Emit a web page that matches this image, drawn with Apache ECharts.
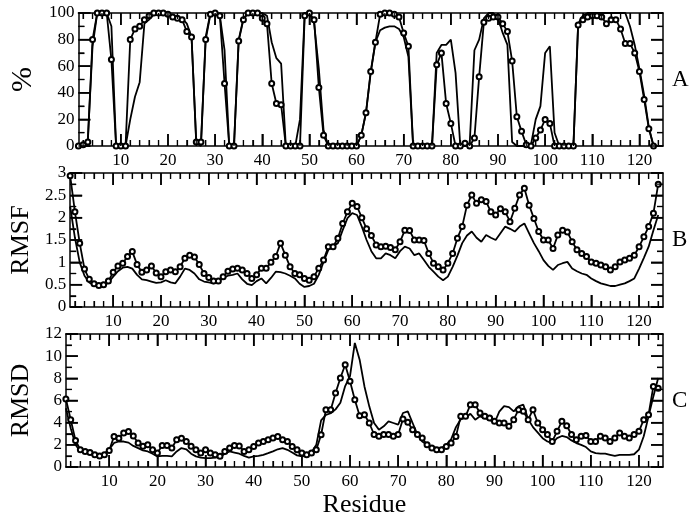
<!DOCTYPE html>
<html><head><meta charset="utf-8">
<script src="https://cdn.jsdelivr.net/npm/echarts@6/dist/echarts.min.js"></script>
<style>html,body{margin:0;padding:0;background:#fff}#c{width:694px;height:521px}</style>
</head><body><div id="c"></div><script>
// Residue numbering starts at 1; each array entry is one residue.
const occupancyCircles = [0,1,3,80,100,100,100,65,0,0,
 0,80,88,90,95,98,100,100,100,99,
 97,96,95,86,82,3,3,80,99,100,
 98,47,0,0,79,95,100,100,100,96,
 92,47,32,31,0,0,0,0,98,100,
 95,44,8,0,0,0,0,0,0,0,
 8,25,56,78,99,100,100,99,97,85,
 75,0,0,0,0,0,61,70,32,17,
 0,0,2,0,6,52,93,96,97,97,
 92,86,64,22,11,1,0,6,12,20,
 17,0,0,0,0,0,91,95,97,98,
 98,97,92,95,95,88,77,77,70,56,
 35,13,0];
const occupancyLine = [0,1,5,75,100,100,100,90,0,0,
 0,20,37,48,92,95,99,100,100,100,
 98,97,96,92,82,2,0,82,100,100,
 98,72,0,0,80,96,100,100,100,100,
 98,78,66,62,0,0,0,20,100,100,
 92,58,12,0,0,0,0,0,0,0,
 8,25,55,78,87,89,90,90,88,82,
 67,0,0,0,0,0,70,76,76,80,
 55,0,0,2,72,80,96,100,100,96,
 85,76,3,0,0,0,1,20,30,70,
 75,10,0,0,0,0,92,98,100,100,
 100,100,100,100,100,100,100,90,76,58,
 38,14,0];
const rmsfCircles = [2.94,2.13,1.43,0.85,0.62,0.52,0.48,0.5,0.58,0.78,
 0.92,0.98,1.13,1.24,0.95,0.78,0.83,0.92,0.76,0.68,
 0.79,0.83,0.79,0.9,1.09,1.16,1.12,0.95,0.75,0.66,
 0.58,0.58,0.68,0.8,0.85,0.87,0.83,0.75,0.64,0.72,
 0.87,0.87,1.0,1.13,1.43,1.16,0.9,0.75,0.72,0.64,
 0.6,0.68,0.87,1.05,1.35,1.35,1.54,1.87,2.13,2.32,
 2.25,2.0,1.75,1.6,1.39,1.35,1.36,1.33,1.28,1.46,
 1.72,1.71,1.5,1.5,1.49,1.2,0.98,0.9,0.83,0.98,
 1.2,1.54,1.8,2.28,2.51,2.32,2.4,2.36,2.13,2.06,
 2.2,2.13,1.91,2.21,2.51,2.66,2.28,1.98,1.69,1.5,
 1.5,1.31,1.61,1.72,1.68,1.46,1.28,1.2,1.13,1.01,
 0.98,0.94,0.9,0.83,0.9,1.01,1.05,1.09,1.16,1.35,
 1.57,1.8,2.1,2.75];
const rmsfLine = [2.25,1.55,1.0,0.7,0.55,0.48,0.45,0.47,0.55,0.68,
 0.8,0.88,0.9,0.86,0.72,0.62,0.6,0.57,0.54,0.55,
 0.6,0.55,0.53,0.68,0.86,0.83,0.75,0.62,0.57,0.55,
 0.53,0.58,0.65,0.7,0.72,0.75,0.62,0.52,0.49,0.58,
 0.64,0.53,0.65,0.79,0.78,0.75,0.7,0.64,0.52,0.45,
 0.47,0.52,0.72,1.01,1.28,1.36,1.43,1.72,1.99,2.1,
 2.06,1.8,1.5,1.25,1.09,1.09,1.2,1.16,1.09,1.25,
 1.35,1.31,1.16,1.2,1.05,0.9,0.79,0.68,0.6,0.68,
 0.9,1.15,1.43,1.6,1.69,1.55,1.46,1.61,1.55,1.5,
 1.65,1.8,1.75,1.69,1.8,1.87,1.65,1.43,1.25,1.05,
 0.92,0.83,0.94,0.98,1.01,0.86,0.8,0.75,0.72,0.64,
 0.58,0.53,0.5,0.47,0.47,0.5,0.53,0.58,0.64,0.86,
 1.1,1.35,1.72,2.06];
const rmsdCircles = [6.14,4.27,2.4,1.56,1.4,1.3,1.1,1.0,1.1,1.5,
 2.76,2.6,3.07,3.2,2.8,2.17,1.87,2.0,1.56,1.26,
 1.93,1.93,1.71,2.46,2.6,2.3,1.87,1.56,1.26,1.56,
 1.26,1.1,0.96,1.4,1.71,1.93,1.9,1.4,1.56,1.86,
 2.16,2.31,2.46,2.61,2.76,2.46,2.31,1.86,1.56,1.26,
 1.1,1.26,1.56,2.91,5.17,5.17,6.68,8.03,9.23,7.73,
 6.07,4.63,4.72,3.97,2.93,2.78,2.93,2.93,2.78,2.93,
 4.33,4.03,3.37,2.93,2.61,2.01,1.71,1.56,1.56,1.86,
 2.16,2.76,4.57,4.57,5.62,5.62,4.87,4.57,4.42,4.12,
 3.97,3.97,3.67,4.27,5.17,5.02,4.27,5.17,3.97,3.37,
 2.93,2.31,3.22,4.12,3.72,2.93,2.46,2.78,2.84,2.31,
 2.31,2.78,2.61,2.31,2.61,3.07,2.78,2.61,2.93,3.22,
 4.27,4.72,7.27,7.1];
const rmsdLine = [5.3,3.5,2.0,1.4,1.3,1.2,1.0,1.0,1.2,1.6,
 2.17,2.3,2.3,2.2,1.9,1.7,1.5,1.4,1.2,0.96,
 1.0,1.0,0.96,1.4,1.71,1.6,1.2,0.96,0.85,0.8,
 0.8,0.85,0.9,1.2,1.4,1.3,1.2,1.0,0.85,0.96,
 1.0,1.1,1.25,1.41,1.6,1.71,1.55,1.3,1.05,0.96,
 1.0,1.3,2.0,4.2,4.7,4.85,5.2,5.8,7.3,8.2,
 11.19,9.68,7.27,5.47,3.97,3.37,3.67,4.12,3.97,3.82,
 4.87,5.02,3.97,2.93,2.31,2.0,1.86,1.71,1.71,2.0,
 2.5,3.6,4.3,4.45,4.8,4.27,4.57,4.4,4.27,3.97,
 5.0,5.5,5.4,5.02,5.47,5.62,4.3,3.6,3.1,2.6,
 2.3,2.16,2.61,2.8,2.7,2.4,2.16,2.0,1.8,1.41,
 1.25,1.2,1.2,1.1,1.0,1.1,1.1,1.1,1.15,1.56,
 2.78,4.57,6.37,8.03];
const xMajorTicks = [10,20,30,40,50,60,70,80,90,100,110,120];
const xMinorTicks = [2,4,6,8,12,14,16,18,22,24,26,28,32,34,36,38,42,44,46,48,52,54,56,58,62,64,66,68,72,74,76,78,82,84,86,88,92,94,96,98,102,104,106,108,112,114,116,118,122,124];
const yAxisNames = ['%','RMSF','RMSD'];
const panelLetters = ['A','B','C'];
const xAxisName = 'Residue';

const FONT = 'Liberation Serif';
const black = '#000';
const X_MIN = 1, X_MAX = 125;
const panels = [
  {min:0,max:100,interval:20,circles:occupancyCircles,line:occupancyLine,nameSize:30,nameGap:29},
  {min:0,max:3,interval:0.5,circles:rmsfCircles,line:rmsfLine,nameSize:26,nameGap:27},
  {min:0,max:12,interval:2,circles:rmsdCircles,line:rmsdLine,nameSize:26,nameGap:23}
];
const gridBoxes = [{top:13,height:133},{top:173,height:134},{top:334,height:133}];

function xAxisFor(g, position, major){
  const ax = {
    type:'value', gridIndex:g, position:position, min:X_MIN, max:X_MAX,
    splitLine:{show:false},
    axisLine:{show:major, lineStyle:{color:black, width:1.5}},
    axisTick:{show:true, inside:true, length: major?12:6,
      customValues: major ? xMajorTicks.slice() : xMinorTicks.slice(),
      lineStyle:{color:black, width: major?1.5:1.2}},
    axisLabel: (major && position==='bottom')
      ? {show:true, customValues:xMajorTicks.slice(), fontFamily:FONT, fontSize:17, color:black, margin:6}
      : {show:false}
  };
  if(g===2 && major && position==='bottom'){
    ax.name = xAxisName; ax.nameLocation = 'middle'; ax.nameGap = 25;
    ax.nameTextStyle = {fontFamily:FONT, fontSize:26, color:black};
  }
  return ax;
}
function yAxisFor(g, p, position){
  const left = position==='left';
  return {
    type:'value', gridIndex:g, position:position, min:p.min, max:p.max, interval:p.interval,
    splitLine:{show:false}, minorSplitLine:{show:false},
    axisLine:{show:true, lineStyle:{color:black, width:1.5}},
    axisTick:{show:true, inside:true, length:12, lineStyle:{color:black, width:1.5}},
    minorTick:{show:true, splitNumber:2, length:6, lineStyle:{color:black, width:1.2}},
    axisLabel: left ? {show:true, fontFamily:FONT, fontSize:17, color:black, margin:4} : {show:false},
    name: left ? yAxisNames[g] : panelLetters[g],
    nameLocation:'middle',
    nameRotate: left ? 90 : 0,
    nameGap: left ? p.nameGap : 9,
    nameTextStyle:{fontFamily:FONT, fontSize: left ? p.nameSize : 23, color:black}
  };
}
// Frame ticks (inward, on all four sides) drawn through the axes' own coordinates.
function tickSeries(g, p){
  const items = [];
  xMajorTicks.forEach(v=>{ items.push([v,p.min,0,1]); items.push([v,p.min,1,1]); });
  xMinorTicks.forEach(v=>{ items.push([v,p.min,0,0]); items.push([v,p.min,1,0]); });
  const n = Math.round((p.max-p.min)/p.interval);
  for(let k=0;k<=n;k++){ const v=p.min+k*p.interval; items.push([X_MIN,v,2,1]); items.push([X_MIN,v,3,1]); }
  for(let k=0;k<n;k++){ const v=p.min+(k+0.5)*p.interval; items.push([X_MIN,v,2,0]); items.push([X_MIN,v,3,0]); }
  return {
    type:'custom', xAxisIndex:4*g, yAxisIndex:2*g, data:items, silent:true, clip:false, z:5,
    dimensions:['x','y','side','major'], encode:{x:0, y:1},
    renderItem:function(params, api){
      const side = api.value(2), major = api.value(3);
      const len = major ? 12 : 6;
      const cs = params.coordSys;
      const pt = api.coord([api.value(0), api.value(1)]);
      let x1, y1, x2, y2;
      if(side===0){ x1=x2=pt[0]; y1=cs.y+cs.height; y2=y1-len; }
      else if(side===1){ x1=x2=pt[0]; y1=cs.y; y2=y1+len; }
      else if(side===2){ y1=y2=pt[1]; x1=cs.x; x2=x1+len; }
      else { y1=y2=pt[1]; x1=cs.x+cs.width; x2=x1-len; }
      return {type:'line', shape:{x1:x1,y1:y1,x2:x2,y2:y2}, style:{stroke:black, lineWidth: major?1.5:1.2}};
    }
  };
}
const grids = [], xAxes = [], yAxes = [], series = [];
panels.forEach((p,g)=>{
  grids.push({left:59, width:604, top:gridBoxes[g].top, height:gridBoxes[g].height});
  xAxes.push(xAxisFor(g,'bottom',true));
  xAxes.push(xAxisFor(g,'bottom',false));
  xAxes.push(xAxisFor(g,'top',true));
  xAxes.push(xAxisFor(g,'top',false));
  yAxes.push(yAxisFor(g,p,'left'));
  yAxes.push(yAxisFor(g,p,'right'));
  series.push({type:'line', xAxisIndex:4*g, yAxisIndex:2*g, data:p.line.map((v,i)=>[i+1,v]),
    symbol:'none', color:black, lineStyle:{color:black, width:1.8}});
  series.push({type:'line', xAxisIndex:4*g, yAxisIndex:2*g, data:p.circles.map((v,i)=>[i+1,v]),
    symbol:'emptyCircle', symbolSize:5, color:black,
    itemStyle:{borderColor:black, borderWidth:1}, lineStyle:{color:black, width:1.8}});
  series.push(tickSeries(g,p));
});
const chart = echarts.init(document.getElementById('c'));
chart.setOption({backgroundColor:'#fff', animation:false, grid:grids, xAxis:xAxes, yAxis:yAxes, series:series});
</script></body></html>
